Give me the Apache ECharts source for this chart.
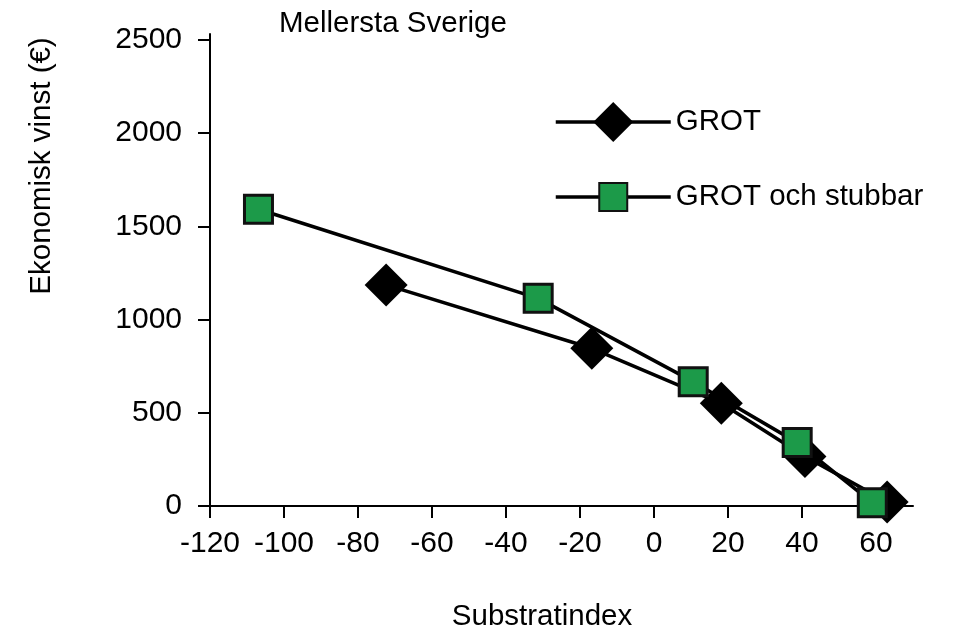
<!DOCTYPE html>
<html>
<head>
<meta charset="utf-8">
<script src="https://cdn.jsdelivr.net/npm/echarts@6/dist/echarts.min.js"></script>
<style>
    html, body { margin: 0; padding: 0; background: #fff; }
    #chart { width: 957px; height: 634px; }
</style>
</head>
<body>
<div id="chart"></div>
<script>
    // data
    var grotX = [-72.4, -16.8, 18.2, 40.8, 63];
    var grotY = [1186, 846, 551, 266, 22];
    var stubX = [-106.9, -31.3, 10.6, 38.7, 59];
    var stubY = [1592, 1114, 667, 340, 18];
    var xTicks = [-120, -100, -80, -60, -40, -20, 0, 20, 40, 60];
    var yTicks = [0, 500, 1000, 1500, 2000, 2500];

    var font = "'Liberation Sans', Arial, sans-serif";
    var green = '#1c9a49';

    function pairs(xs, ys) {
        var out = [];
        for (var i = 0; i < xs.length; i++) out.push([xs[i], ys[i]]);
        return out;
    }

    var myChart = echarts.init(document.getElementById('chart'));
    myChart.setOption({
        animation: false,
        title: {
            text: 'Mellersta Sverige',
            left: 279, top: 9, padding: 0,
            textStyle: { fontFamily: font, fontSize: 29.5, fontWeight: 'normal', color: '#000' }
        },
        legend: [{
            data: ['GROT'],
            left: 549, top: 97,
            itemWidth: 115, itemHeight: 50,
            lineStyle: { width: 3.5 },
            textStyle: { fontFamily: font, fontSize: 29.5, color: '#000' }
        }, {
            data: ['GROT och stubbar'],
            left: 549, top: 177,
            itemWidth: 115, itemHeight: 35,
            lineStyle: { width: 3.5 },
            textStyle: { fontFamily: font, fontSize: 29.5, color: '#000' }
        }],
        grid: { left: 210, right: 44, top: 34, bottom: 128, containLabel: false },
        xAxis: {
            type: 'value', min: -120, max: 70,
            splitLine: { show: false },
            axisLine: { onZero: false, lineStyle: { color: '#000', width: 2 } },
            axisTick: { length: 12, customValues: xTicks, lineStyle: { color: '#000', width: 2 } },
            axisLabel: { customValues: xTicks, margin: 23, fontFamily: font, fontSize: 30, color: '#000' }
        },
        yAxis: {
            type: 'value', min: 0, max: 2532,
            splitLine: { show: false },
            axisLine: { show: true, onZero: false, lineStyle: { color: '#000', width: 2 } },
            axisTick: { show: true, length: 12, customValues: yTicks, lineStyle: { color: '#000', width: 2 } },
            axisLabel: {
                customValues: yTicks, margin: 28, fontFamily: font, fontSize: 30, color: '#000',
                formatter: function (v) { return String(v); }
            }
        },
        graphic: [{
            type: 'text', x: 42, y: 166, rotation: Math.PI / 2,
            style: { text: 'Ekonomisk vinst (€)', font: '29.5px ' + font, fill: '#000', align: 'center', verticalAlign: 'middle' }
        }, {
            type: 'text', x: 542, y: 617,
            style: { text: 'Substratindex', font: '29.5px ' + font, fill: '#000', align: 'center', verticalAlign: 'middle' }
        }],
        series: [{
            name: 'GROT',
            type: 'line',
            data: pairs(grotX, grotY),
            clip: false,
            symbol: 'diamond',
            symbolSize: 43,
            lineStyle: { color: '#000', width: 3.5 },
            itemStyle: { color: '#000', borderColor: '#000', borderWidth: 0 }
        }, {
            name: 'GROT och stubbar',
            type: 'line',
            data: pairs(stubX, stubY),
            clip: false,
            symbol: 'rect',
            symbolSize: 28,
            lineStyle: { color: '#000', width: 3.5 },
            itemStyle: { color: green, borderColor: '#111', borderWidth: 3 }
        }]
    });
</script>
</body>
</html>
